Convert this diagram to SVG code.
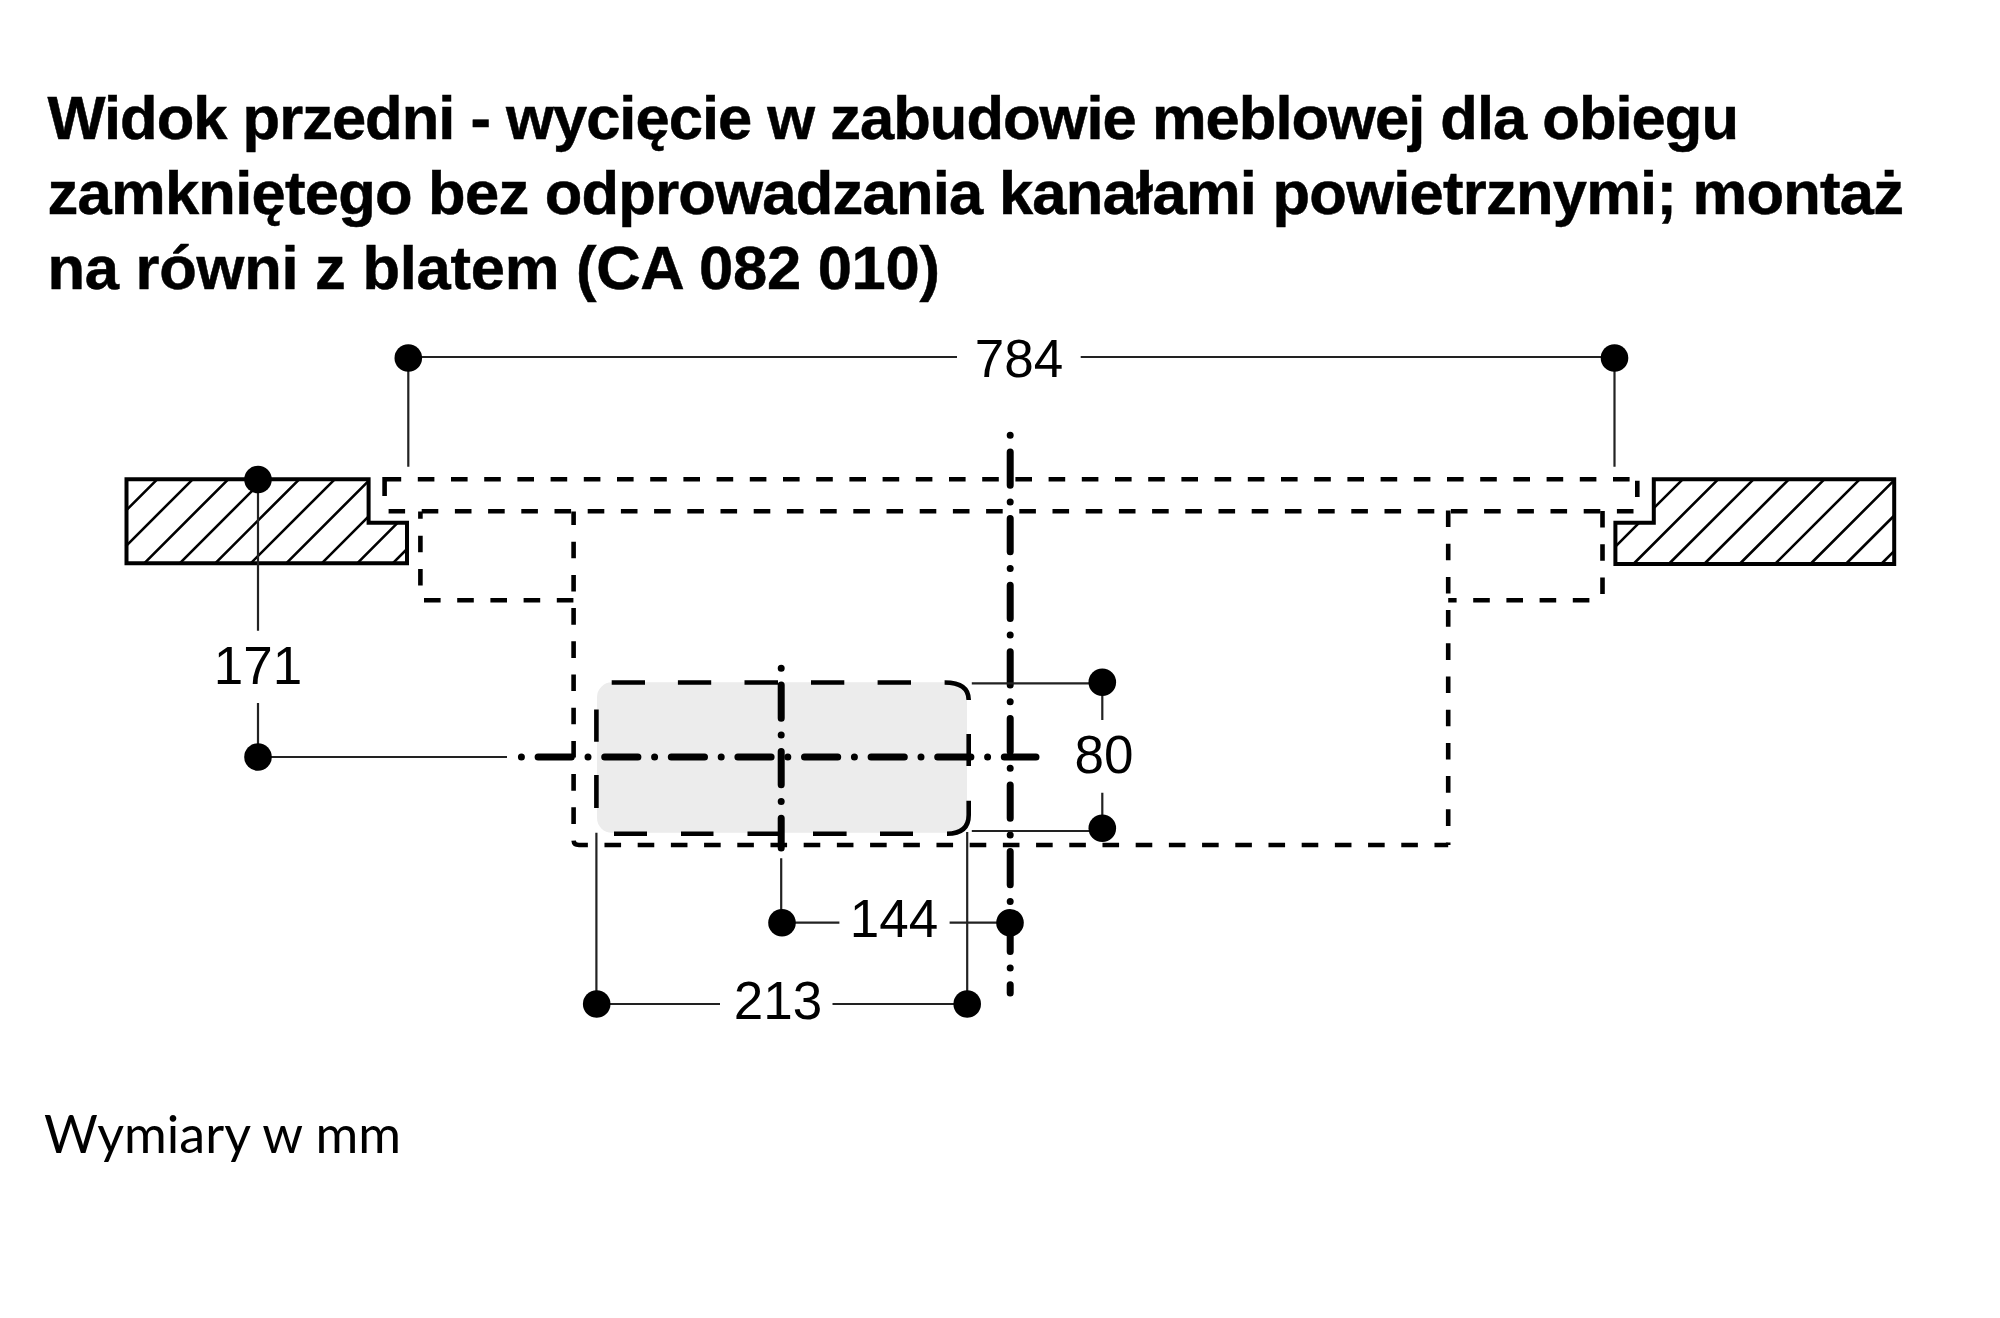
<svg xmlns="http://www.w3.org/2000/svg" width="2000" height="1318" viewBox="0 0 2000 1318">
<style>
.t{font-family:"Liberation Sans",Arial,sans-serif;font-weight:700;font-size:61.5px;fill:#000;stroke:#000;stroke-width:.5}
.n{font-family:"Liberation Sans",Arial,sans-serif;font-size:53px;fill:#000;text-anchor:middle}
.f{font-family:Lato,"Liberation Sans",sans-serif;font-size:52px;fill:#000}
.b{fill:none;stroke:#000;stroke-width:4;stroke-linejoin:miter;stroke-linecap:square}
.h{fill:none;stroke:#000;stroke-width:2.6}
.d{fill:none;stroke:#000;stroke-width:4.6;stroke-dasharray:16.6 16.6}
.e{fill:none;stroke:#000;stroke-width:4.6}
.c{fill:none;stroke:#000;stroke-width:7;stroke-linecap:round;stroke-dasharray:0 16.7 33.2 16.7}
.s{fill:none;stroke:#222;stroke-width:2.2}
.p{fill:#000}
</style>
<rect width="2000" height="1318" fill="#fff"/>
<g id="title">
<text class="t" x="47.5" y="139.3" textLength="1691.5" lengthAdjust="spacing">Widok przedni - wycięcie w zabudowie meblowej dla obiegu</text>
<text class="t" x="47.5" y="214" textLength="1856.5" lengthAdjust="spacing">zamkniętego bez odprowadzania kanałami powietrznymi; montaż</text>
<text class="t" x="47.5" y="289.3" textLength="892.5" lengthAdjust="spacing">na równi z blatem (CA 082 010)</text>
</g>
<g id="worktop-left">
<path class="h" d="M125.7 510.8L157.2 479.3M125.7 546.3L192.7 479.3M144.2 563.3L228.2 479.3M179.7 563.3L263.7 479.3M215.2 563.3L299.2 479.3M250.7 563.3L334.7 479.3M286.2 563.3L368.6 480.9M321.7 563.3L368.6 516.4M357.2 563.3L397.8 522.7M392.7 563.3L407 549"/>
<path class="b" d="M126.5 479.3H368.6V522.7H407V563.3H126.5Z"/>
</g>
<g id="worktop-right">
<path class="h" d="M1653.8 508.2L1682.7 479.3M1614.9 547.1L1639.3 522.7M1633.4 564L1718.1 479.3M1668.8 564L1753.5 479.3M1704.2 564L1788.9 479.3M1739.6 564L1824.3 479.3M1775 564L1859.7 479.3M1810.4 564L1894.8 479.6M1845.8 564L1894.8 515M1881.2 564L1894.8 550.4"/>
<path class="b" d="M1653.8 479.3H1894.2V564H1615.4V522.7H1653.8Z"/>
</g>
<g id="appliance">
<rect x="597" y="682.3" width="370" height="150.5" rx="15" fill="#ececec"/>
<path class="d" d="M384.6 479.3H1632"/>
<path class="e" d="M384.6 496V477M1637.3 480.7V497M420.4 511.5V518.7"/>
<path class="d" d="M1633.5 511.3H388.6"/>
<path class="d" d="M420.4 535.7V600"/>
<path class="d" d="M424 600.3H573.6"/>
<path class="d" stroke-dashoffset="3" d="M573.6 511.5V840Q573.6 845 579 845H1448.2"/>
<path class="d" d="M1448.2 510.5V845"/>
<path class="d" stroke-dashoffset="8.2" d="M1448.2 600.3H1602.5"/>
<path class="d" d="M1602.5 511V600"/>
<path class="e" d="M611.7 682.5H645M677.9 682.5H711.2M744.5 682.5H778M811 682.5H844.3M877.6 682.5H911M944.6 682.5Q968.7 682.5 968.7 700M968.7 734V766M968.7 800.7V815Q968.7 833.7 947 833.7M913 833.7H880M846.6 833.7H813M780 833.7H747.5M713.5 833.7H681M647 833.7H614M596.4 808V775M596.4 741.7V709.5"/>
</g>
<g id="center-lines">
<path class="c" d="M1010.2 435.3V993"/>
<path class="c" d="M521.4 757H1036"/>
<path class="c" d="M781.2 668.3V848"/>
</g>
<g id="connectors">
<path class="s" d="M408.3 357H957M1080.7 357H1614.5M408.3 357V466.7M1614.5 357V466.7"/>
<path class="s" d="M258 479.5V630.7M258 703V757M258 757H507"/>
<path class="s" d="M971.8 683.3H1102.3M1102.3 682V720M1102.3 792.7V828.3M971.8 831H1102.3"/>
<path class="s" d="M781.2 858.3V922.7M782 922.7H839.4M949.6 922.7H1010"/>
<path class="s" d="M596.4 832.7V1004M967.2 832V1004M596.7 1004H720M832.5 1004H967.2"/>
</g>
<g id="dim-784">
<circle class="p" cx="408.3" cy="358" r="13.8"/><circle class="p" cx="1614.5" cy="358" r="13.8"/>
<text class="n" x="1019" y="376.7">784</text>
</g>
<g id="dim-171">
<circle class="p" cx="258" cy="479.5" r="13.8"/><circle class="p" cx="258" cy="757" r="13.8"/>
<text class="n" x="258" y="683.5">171</text>
</g>
<g id="dim-80">
<circle class="p" cx="1102.3" cy="682.3" r="13.8"/><circle class="p" cx="1102.3" cy="828.3" r="13.8"/>
<text class="n" x="1104" y="773">80</text>
</g>
<g id="dim-144">
<circle class="p" cx="782" cy="922.7" r="13.8"/><circle class="p" cx="1010" cy="922.7" r="13.8"/>
<text class="n" x="894" y="936.7">144</text>
</g>
<g id="dim-213">
<circle class="p" cx="596.7" cy="1004" r="13.8"/><circle class="p" cx="967.2" cy="1004" r="13.8"/>
<text class="n" x="778" y="1019">213</text>
</g>
<g id="footer">
<text class="f" x="44" y="1152.7" textLength="357" lengthAdjust="spacing">Wymiary w mm</text>
</g>
</svg>
